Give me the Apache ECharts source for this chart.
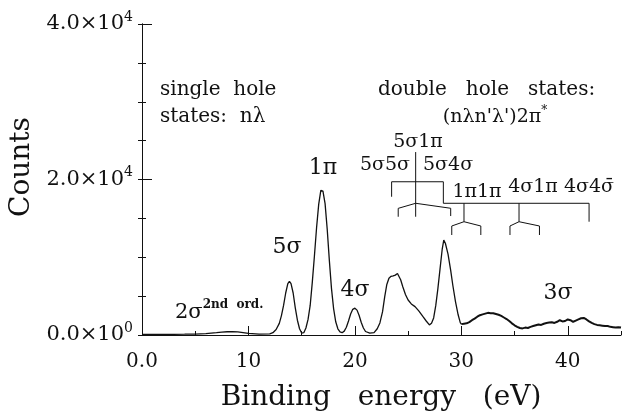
<!DOCTYPE html>
<html>
<head>
<meta charset="utf-8">
<script src="https://cdn.jsdelivr.net/npm/echarts@6/dist/echarts.min.js"></script>
<style>
  html, body { margin: 0; padding: 0; background: #fff; }
  #main { width: 623px; height: 414px; }
</style>
</head>
<body>
<div id="main"></div>
<script>
// spectrum: binding energy (eV) and counts
const energy = [
  0, 1, 2, 3, 4, 5, 6, 7, 7.5, 8, 8.5, 9, 9.5, 10, 11, 12,
  12.3, 12.6, 12.9, 13.1, 13.3, 13.5, 13.7, 13.85, 14.0, 14.2, 14.4, 14.6, 14.8,
  15.0, 15.2, 15.4, 15.6, 15.8, 16.0, 16.2, 16.4, 16.6, 16.8, 16.9, 17.0, 17.2,
  17.4, 17.6, 17.8, 18.0, 18.2, 18.4, 18.6, 18.8, 19.0, 19.2, 19.4, 19.6, 19.8,
  20.0, 20.2, 20.4, 20.6, 20.8, 21.0, 21.4, 21.8, 22.1, 22.35, 22.6, 22.8, 23.0,
  23.2, 23.4, 23.6, 23.8, 24.0, 24.1, 24.3, 24.5, 24.75, 25.0, 25.3, 25.65, 26.0,
  26.4, 26.7, 27.0, 27.2, 27.4, 27.6, 27.8, 28.0, 28.2, 28.35, 28.5, 28.75, 29.0,
  29.2, 29.45, 29.7, 29.9, 30.0
];
const counts = [
  80, 80, 90, 90, 100, 120, 180, 300, 380, 420, 440, 400, 300, 200, 110, 150,
  300, 700, 1500, 2500, 3800, 5400, 6600, 6900, 6600, 5400, 3500, 1900, 800,
  250, 300, 900, 2000, 3800, 6800, 10200, 13800, 16800, 18600, 18750, 18500, 16900,
  13600, 9600, 6000, 3400, 1700, 800, 400, 300, 500, 1000, 1800, 2700, 3300,
  3450, 3200, 2500, 1600, 900, 450, 250, 300, 800, 1550, 3000, 4900, 6500,
  7300, 7550, 7600, 7700, 7900, 7850, 7100, 6200, 5200, 4500, 4000, 3650, 3100,
  2350, 1800, 1300, 1500, 2200, 3800, 6000, 8500, 11000, 12200, 11800, 10400, 8300,
  6400, 4300, 2600, 1600, 1400
];
// noisy high-energy tail (3sigma region)
const tailEnergy = [
  30.0, 30.25, 30.5, 30.75, 31.0, 31.25, 31.5, 31.75, 32.0, 32.25, 32.5, 32.75,
  33.0, 33.25, 33.5, 33.75, 34.0, 34.25, 34.5, 34.75, 35.0, 35.25, 35.5, 35.75,
  36.0, 36.25, 36.5, 36.75, 37.0, 37.25, 37.5, 37.75, 38.0, 38.25, 38.5, 38.75,
  39.0, 39.25, 39.5, 39.75, 40.0, 40.25, 40.5, 40.75, 41.0, 41.25, 41.5, 41.75,
  42.0, 42.25, 42.5, 42.75, 43.0, 43.25, 43.5, 43.75, 44.0, 44.25, 44.5, 44.75, 45.0
];
const tailCounts = [
  1400, 1450, 1500, 1650, 1900, 2100, 2350, 2550, 2650, 2750, 2850, 2800,
  2800, 2700, 2600, 2450, 2250, 2050, 1800, 1500, 1250, 1050, 900, 850,
  950, 900, 1050, 1150, 1250, 1350, 1300, 1450, 1550, 1600, 1650, 1550,
  1700, 1900, 1750, 1800, 2000, 1900, 1700, 1850, 2000, 2150, 2200, 2000,
  1750, 1550, 1400, 1300, 1250, 1200, 1150, 1150, 1050, 1000, 950, 1000, 950
];

// double-hole state brackets, in (eV, counts)
const bracketTop = [[23.45, 17780], [23.45, 19710], [28.31, 19710], [28.31, 16940], [42.0, 16940], [42.0, 14570]];
const bracketStem = [[25.71, 23530], [25.71, 15210]];
const bracketRoof = [[24.07, 15210], [24.07, 16290], [25.71, 16940], [29.0, 16300], [29.0, 15300]];
const bracketPiPi = [[29.1, 12860], [29.1, 14020], [30.25, 14570], [31.83, 14020], [31.83, 12860]];
const stemPiPi = [[30.25, 16940], [30.25, 14570]];
const bracketSigPi = [[34.57, 12860], [34.57, 14020], [35.42, 14570], [37.34, 14020], [37.34, 12860]];
const stemSigPi = [[35.42, 16940], [35.42, 14570]];

const FONT = '"DejaVu Serif", "Liberation Serif", serif';
const INK = '#111';

const chart = echarts.init(document.getElementById('main'));

function label(x, y, text, size, align, rich) {
  return {
    type: 'text', x: x, y: y, silent: true,
    style: {
      text: text, fill: INK, fontFamily: FONT, fontSize: size,
      align: align || 'center', verticalAlign: 'middle',
      textAlign: align || 'center', textVerticalAlign: 'middle',
      rich: rich || {}
    }
  };
}

const sup = {
  s: { fontFamily: FONT, fontSize: 12, fill: INK, verticalAlign: 'top', lineHeight: 12, fontWeight: 'bold' },
  n: { fontFamily: FONT, fontSize: 21, fill: INK, lineHeight: 28 }
};

const option = {
  animation: false,
  backgroundColor: '#fff',
  grid: { left: 142, right: 2, top: 24, bottom: 79 },
  xAxis: [
    {
      type: 'value', min: 0, max: 45, interval: 10, position: 'bottom',
      axisLine: { lineStyle: { color: INK, width: 1 } },
      axisTick: { inside: true, length: 9, lineStyle: { color: INK } },
      axisLabel: {
        color: INK, fontFamily: FONT, fontSize: 20, margin: 17, showMaxLabel: false,
        formatter: v => (v === 0 ? '0.0' : String(v))
      },
      splitLine: { show: false }
    },
    {
      type: 'value', min: 0, max: 45, interval: 5, position: 'bottom',
      axisLine: { show: false },
      axisTick: { inside: true, length: 4, lineStyle: { color: INK } },
      axisLabel: { show: false },
      splitLine: { show: false }
    }
  ],
  yAxis: [
    {
      type: 'value', min: 0, max: 40000, interval: 20000, position: 'left',
      axisLine: { show: true, lineStyle: { color: INK, width: 1 } },
      axisTick: { show: true, inside: true, length: 10, lineStyle: { color: INK } },
      minorTick: { show: true, splitNumber: 4, length: 4, lineStyle: { color: INK } },
      axisLabel: {
        color: INK, fontFamily: FONT, fontSize: 21, margin: 9,
        formatter: v => {
          if (v === 0) return '{n|0.0×10}{s|0}';
          const e = Math.floor(Math.log10(v));
          return '{n|' + (v / Math.pow(10, e)).toFixed(1) + '×10}{s|' + e + '}';
        },
        rich: {
          n: { fontFamily: FONT, fontSize: 21, color: INK, lineHeight: 28 },
          s: { fontFamily: FONT, fontSize: 14, color: INK, verticalAlign: 'top', lineHeight: 13 }
        }
      },
      splitLine: { show: false }
    },
    {
      type: 'value', min: 0, max: 40000, interval: 5000, position: 'right',
      axisLine: { show: true, lineStyle: { color: INK, width: 1 } },
      axisTick: { show: true, inside: true, length: 4, lineStyle: { color: INK } },
      axisLabel: { show: false },
      splitLine: { show: false }
    }
  ],
  series: [
    {
      type: 'line', xAxisIndex: 0, yAxisIndex: 0,
      data: energy.map((e, i) => [e, counts[i]]),
      showSymbol: false, symbol: 'none',
      lineStyle: { color: INK, width: 1.3 }
    },
    {
      type: 'line', xAxisIndex: 0, yAxisIndex: 0,
      data: tailEnergy.map((e, i) => [e, tailCounts[i]]),
      showSymbol: false, symbol: 'none',
      lineStyle: { color: INK, width: 2 }
    },
    {
      type: 'lines', coordinateSystem: 'cartesian2d', xAxisIndex: 0, yAxisIndex: 0,
      polyline: true, silent: true,
      lineStyle: { color: INK, width: 1, opacity: 1 },
      data: [bracketTop, bracketStem, bracketRoof, bracketPiPi, stemPiPi, bracketSigPi, stemSigPi]
        .map(c => ({ coords: c }))
    }
  ],
  graphic: [
    Object.assign(label(22, 167, 'Counts', 28), { rotation: Math.PI / 2 }),
    label(381, 398, 'Binding   energy   (eV)', 28),
    label(160, 90, 'single  hole', 20, 'left'),
    label(160, 117, 'states:  nλ', 20, 'left'),
    label(378, 90, 'double   hole   states:', 20, 'left'),
    label(495, 117, "{n|(nλn'λ')2π}{s|*}", 19, 'center', {
      n: { fontFamily: FONT, fontSize: 19, fill: INK, lineHeight: 24 },
      s: { fontFamily: FONT, fontSize: 12, fill: INK, verticalAlign: 'top', lineHeight: 12 }
    }),
    label(418, 142, '5σ1π', 19),
    label(410, 165, '5σ5σ', 19, 'right'),
    label(423, 165, '5σ4σ', 19, 'left'),
    label(477, 192, '1π1π', 19),
    label(533, 187, '4σ1π', 19),
    label(589, 187, '4σ4σ\u0304', 19),
    label(287, 247, '5σ', 22),
    label(323, 168, '1π', 22),
    label(355, 290, '4σ', 22),
    label(558, 293, '3σ', 22),
    label(175, 313, '{n|2σ}{s|2nd  ord.}', 21, 'left', sup)
  ]
};

chart.setOption(option);
</script>
</body>
</html>
